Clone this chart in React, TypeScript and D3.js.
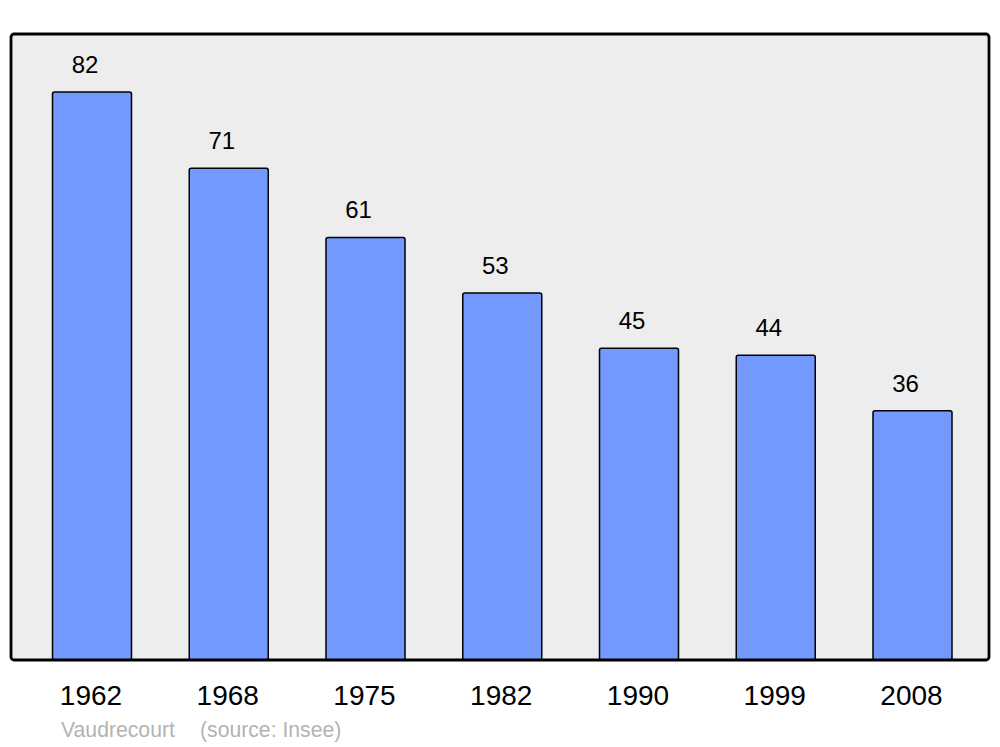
import React from "react";
import * as d3 from "d3";

const years = ["1962", "1968", "1975", "1982", "1990", "1999", "2008"];
const population = [82, 71, 61, 53, 45, 44, 36];
const commune = "Vaudrecourt";
const source = "(source: Insee)";

export default function App() {
  const W = 1000, H = 747;
  const x = d3.scaleBand<string>().domain(years).range([52.5, 952]).paddingInner(0.4223).paddingOuter(0);
  const y = d3.scaleLinear().domain([0, 82]).range([660, 92]);
  const font = "'Liberation Sans', Arial, sans-serif";
  return (
    <svg width={W} height={H} style={{ position: "absolute", left: 0, top: 0 }} fontFamily={font}>
      <rect x={0} y={0} width={W} height={H} fill="#ffffff" />
      <rect x={11} y={34} width={978} height={626} rx={3} ry={3} fill="#ededed" stroke="none" />
      {years.map((yr, i) => (
        <g key={yr}>
          <rect
            x={x(yr)!}
            y={y(population[i])}
            width={x.bandwidth()}
            height={y(0) - y(population[i])}
            rx={2}
            ry={2}
            fill="#7399ff"
            stroke="#000"
            strokeWidth={1.5}
          />
          <text x={x(yr)! + x.bandwidth() / 2 - 7} y={y(population[i]) - 19} textAnchor="middle" fontSize={24} fill="#000">
            {population[i]}
          </text>
          <text x={x(yr)! + x.bandwidth() / 2 - 1} y={705} textAnchor="middle" fontSize={28} fill="#000">
            {yr}
          </text>
        </g>
      ))}
      <rect x={11} y={34} width={978} height={626} rx={3} ry={3} fill="none" stroke="#000" strokeWidth={2.8} />
      <text x={61} y={737} fontSize={21.2} fill="#b3b3b3">{commune}</text>
      <text x={200} y={737} fontSize={21.2} fill="#b3b3b3">{source}</text>
    </svg>
  );
}
